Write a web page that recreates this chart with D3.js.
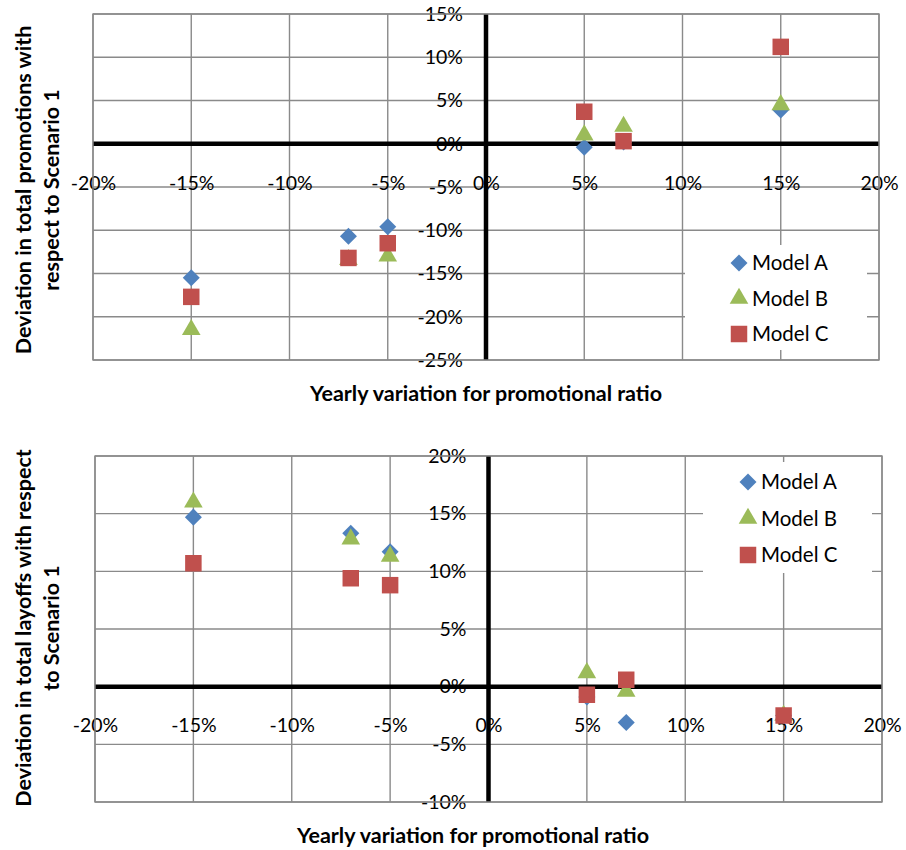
<!DOCTYPE html>
<html>
<head>
<meta charset="utf-8">
<script src="https://cdn.jsdelivr.net/npm/d3@7"></script>
<style>
  body { margin: 0; background: #fff; }
  svg { display: block; font-family: Lato, "Liberation Sans", sans-serif; }
</style>
</head>
<body>
<div id="root"></div>
<script>
// x categories (yearly variation for promotional ratio)
const xValues = [-0.15, -0.07, -0.05, 0.05, 0.07, 0.15]
const seriesNames = ["Model A", "Model B", "Model C"]

// deviation in total promotions
const promoA = [-0.155, -0.107, -0.096, -0.004, 0.002, 0.039]
const promoB = [-0.215, -0.134, -0.130, 0.010, 0.020, 0.045]
const promoC = [-0.177, -0.132, -0.115, 0.037, 0.003, 0.112]

// deviation in total layoffs
const layoffA = [0.147, 0.133, 0.117, -0.009, -0.031, -0.025]
const layoffB = [0.160, 0.128, 0.113, 0.012, -0.004, -0.025]
const layoffC = [0.107, 0.094, 0.088, -0.007, 0.006, -0.025]

const xTicks = [-0.2, -0.15, -0.1, -0.05, 0, 0.05, 0.1, 0.15, 0.2]
const promoTicks = [0.15, 0.1, 0.05, 0, -0.05, -0.1, -0.15, -0.2, -0.25]
const layoffTicks = [0.2, 0.15, 0.1, 0.05, 0, -0.05, -0.1]

const colors = ["#4f81bd", "#9bbb59", "#c0504d"]
const symbols = ["diamond", "triangle", "square"]
const pct = d => Math.round(d * 100) + "%"

const svg = d3.select("#root").append("svg")
  .attr("width", 906)
  .attr("height", 850)

function markerPath(type) {
  if (type === "square") return d3.symbol(d3.symbolSquare, 272)()
  if (type === "triangle") return d3.symbol(d3.symbolTriangle, 150)()
  return d3.symbol(d3.symbolSquare, 145)()
}

function drawChart(cfg) {
  const { box, yDomain, yTicks, series, yTitle, xTitle, legend } = cfg

  const xScale = d3.scaleLinear()
    .domain([-0.2, 0.2])
    .range([box.left, box.right])
  const yScale = d3.scaleLinear()
    .domain(yDomain)
    .range([box.bottom, box.top])

  const g = svg.append("g")

  // gridlines
  g.append("g").selectAll("line.vx")
    .data(xTicks)
    .join("line")
    .attr("x1", d => xScale(d)).attr("x2", d => xScale(d))
    .attr("y1", box.top).attr("y2", box.bottom)
    .attr("stroke", "#8a8a8a").attr("stroke-width", 1.4)
  g.append("g").selectAll("line.hy")
    .data(yTicks)
    .join("line")
    .attr("x1", box.left).attr("x2", box.right)
    .attr("y1", d => yScale(d)).attr("y2", d => yScale(d))
    .attr("stroke", "#8a8a8a").attr("stroke-width", 1.4)

  // legend background hides the grid
  g.append("rect")
    .attr("x", legend.x).attr("y", legend.y)
    .attr("width", legend.w).attr("height", legend.h)
    .attr("fill", "#fff")

  // axis labels
  const xAxis = g.append("g")
    .attr("transform", `translate(0,${yScale(0)})`)
    .call(d3.axisBottom(xScale).tickValues(xTicks).tickFormat(pct).tickSize(0).tickPadding(cfg.xPad))
  xAxis.select(".domain").remove()
  xAxis.selectAll("text").attr("font-size", 19.5).attr("fill", "#000")
    .style("font-family", "Lato, sans-serif")

  const yAxis = g.append("g")
    .attr("transform", `translate(${xScale(0)},0)`)
    .call(d3.axisLeft(yScale).tickValues(yTicks).tickFormat(pct).tickSize(0).tickPadding(cfg.yPad))
  yAxis.select(".domain").remove()
  yAxis.selectAll("text").attr("font-size", 19.5).attr("fill", "#000")
    .style("font-family", "Lato, sans-serif")

  // heavy zero lines
  g.append("line")
    .attr("x1", box.left).attr("x2", box.right)
    .attr("y1", yScale(0)).attr("y2", yScale(0))
    .attr("stroke", "#000").attr("stroke-width", 4.5)
  g.append("line")
    .attr("x1", xScale(0)).attr("x2", xScale(0))
    .attr("y1", box.top).attr("y2", box.bottom)
    .attr("stroke", "#000").attr("stroke-width", 4.5)

  // points
  series.forEach((vals, i) => {
    g.append("g").selectAll("path")
      .data(xValues.map((x, j) => ({ x, y: vals[j] })))
      .join("path")
      .attr("d", markerPath(symbols[i]))
      .attr("transform", d => `translate(${xScale(d.x)},${yScale(d.y)})` + (symbols[i] === "diamond" ? " rotate(45)" : ""))
      .attr("fill", colors[i])
  })

  // legend entries
  const items = g.append("g").selectAll("g")
    .data(seriesNames)
    .join("g")
    .attr("transform", (d, i) => `translate(${legend.mx},${legend.y0 + i * legend.step})`)
  items.append("path")
    .attr("d", (d, i) => markerPath(symbols[i]))
    .attr("transform", (d, i) => symbols[i] === "diamond" ? "rotate(45)" : "")
    .attr("fill", (d, i) => colors[i])
  items.append("text")
    .attr("x", 13)
    .attr("dy", "0.36em")
    .attr("font-size", 20.5)
    .text(d => d)

  // titles
  g.append("text")
    .attr("x", cfg.xTitleX)
    .attr("y", cfg.xTitleY)
    .attr("text-anchor", "middle")
    .attr("font-weight", "bold")
    .attr("font-size", 21.5)
    .text(xTitle)

  const yt = g.append("text")
    .attr("transform", `translate(0,${cfg.yTitleY}) rotate(-90)`)
    .attr("text-anchor", "middle")
    .attr("font-weight", "bold")
    .attr("font-size", 21.5)
  yTitle.forEach((line, i) => {
    yt.append("tspan")
      .attr("x", 0)
      .attr("y", 31 + i * 28)
      .text(line)
  })

  // plot border
  g.append("rect")
    .attr("x", box.left).attr("y", box.top)
    .attr("width", box.right - box.left).attr("height", box.bottom - box.top)
    .attr("fill", "none").attr("stroke", "#8a8a8a").attr("stroke-width", 1.4)
}

drawChart({
  box: { left: 93, right: 879, top: 14, bottom: 360 },
  yDomain: [-0.25, 0.15],
  yTicks: promoTicks,
  series: [promoA, promoB, promoC],
  yTitle: ["Deviation in total promotions  with", "respect to Scenario 1"],
  xTitle: "Yearly variation for promotional ratio",
  xPad: 32, yPad: 23,
  xTitleX: 486, xTitleY: 401,
  yTitleY: 190,
  legend: { x: 685, y: 245, w: 182, h: 105, mx: 739, y0: 263, step: 35.5 }
})

drawChart({
  box: { left: 95, right: 882, top: 456, bottom: 802 },
  yDomain: [-0.1, 0.2],
  yTicks: layoffTicks,
  series: [layoffA, layoffB, layoffC],
  yTitle: ["Deviation in total layoffs with respect", "to Scenario 1"],
  xTitle: "Yearly variation for promotional ratio",
  xPad: 31, yPad: 22,
  xTitleX: 473, xTitleY: 843,
  yTitleY: 628,
  legend: { x: 703, y: 462, w: 169, h: 111, mx: 748, y0: 482, step: 36.5 }
})
</script>
</body>
</html>
